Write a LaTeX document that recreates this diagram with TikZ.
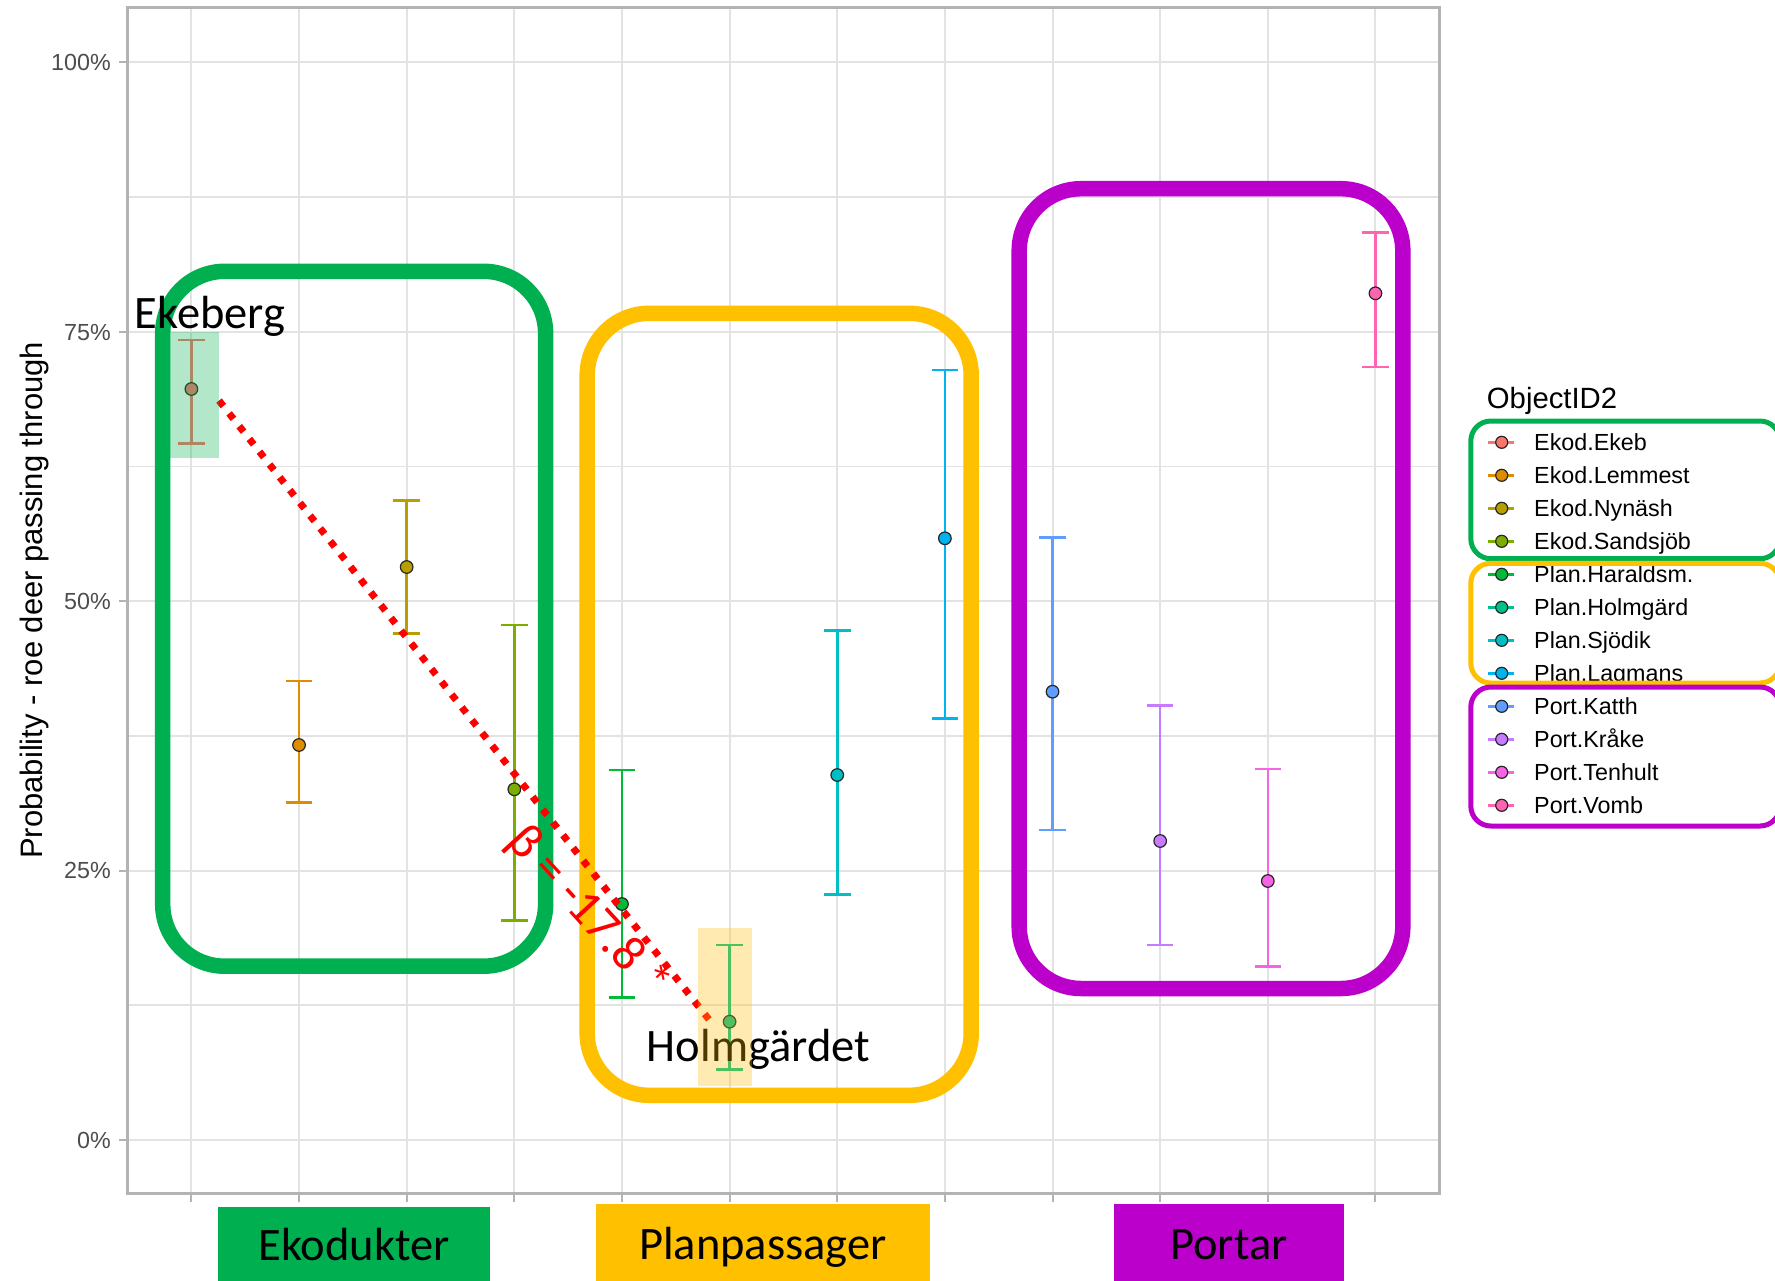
\documentclass[tikz,border=0pt]{standalone}
\usepackage{fontspec}
\setmainfont{Liberation Sans}
\newfontfamily\callabel{Carlito}

% ggplot hue palette, 12 levels
\definecolor{hA}{HTML}{F8766D}
\definecolor{hB}{HTML}{DE8C00}
\definecolor{hC}{HTML}{B79F00}
\definecolor{hD}{HTML}{7CAE00}
\definecolor{hE}{HTML}{00BA38}
\definecolor{hF}{HTML}{00C08B}
\definecolor{hG}{HTML}{00BFC4}
\definecolor{hH}{HTML}{00B4F0}
\definecolor{hI}{HTML}{619CFF}
\definecolor{hJ}{HTML}{C77CFF}
\definecolor{hK}{HTML}{F564E3}
\definecolor{hL}{HTML}{FF64B0}
% group colours
\definecolor{ekogreen}{HTML}{00B050}
\definecolor{planyellow}{HTML}{FFC000}
\definecolor{portpurple}{HTML}{BB00CC}
% theme colours
\definecolor{gridgray}{HTML}{E3E3E3}
\definecolor{bordergray}{HTML}{B3B3B3}
\definecolor{ticktext}{HTML}{4D4D4D}

\tikzset{
  gridmajor/.style={draw=gridgray, line width=2pt},
  gridminor/.style={draw=gridgray, line width=1.6pt},
  axisline/.style={draw=bordergray, line width=2.6pt},
  axistick/.style={draw=bordergray, line width=2pt},
  ticklabel/.style={text=ticktext, font=\fontsize{23.3pt}{28pt}\selectfont, inner sep=0pt},
  legtext/.style={text=black, font=\fontsize{23.3pt}{28pt}\selectfont, inner sep=0pt},
  errbar/.style={line width=2.6pt},
  meanpt/.style={draw=black!85, line width=1.2pt},
  groupbox/.style={line width=15.5pt, rounded corners=62pt},
  legbox/.style={line width=5pt, rounded corners=20pt},
  calout/.style={font=\callabel\fontsize{46.5pt}{52pt}\selectfont, inner sep=0pt},
}

\begin{document}
\begin{tikzpicture}[x=1pt,y=-1pt]
% canvas
\fill[white] (0,0) rectangle (1775,1280);
\useasboundingbox (0,0) rectangle (1775,1280);

% panel grid: minor horizontals, major horizontals, verticals
\foreach \p in {12.5,37.5,62.5,87.5}
  \draw[gridminor] (127.4,{1139.9-10.776*\p}) -- (1439.3,{1139.9-10.776*\p});
\foreach \p in {0,25,50,75,100}
  \draw[gridmajor] (127.4,{1139.9-10.776*\p}) -- (1439.3,{1139.9-10.776*\p});
\foreach \i in {1,...,12}
  \draw[gridmajor] ({191.4+107.64*(\i-1)},7.3) -- ({191.4+107.64*(\i-1)},1193.3);

% panel border and ticks
\draw[axisline] (127.4,7.3) rectangle (1439.3,1193.3);
\foreach \i in {1,...,12}
  \draw[axistick] ({191.4+107.64*(\i-1)},1193.3) -- ({191.4+107.64*(\i-1)},1201.7);
\foreach \p/\lab in {0/0\%,25/25\%,50/50\%,75/75\%,100/100\%}{
  \draw[axistick] (119.3,{1139.9-10.776*\p}) -- (127.4,{1139.9-10.776*\p});
  \node[ticklabel, anchor=base east] (yt\p) at (111,{1139.9-10.776*\p+8.35}) {\lab};
}

% y axis title
\node[inner sep=0pt, anchor=base, rotate=90, font=\fontsize{31pt}{36pt}\selectfont]
  (ytitle) at (42.5,600.3) {Probability - roe deer passing through};

% error bars with mean points: index / colour / lower / mean / upper
\foreach \i/\c/\lo/\m/\hi in {
  1/hA/443.3/389/340,
  2/hB/802.7/745/681,
  3/hC/633.7/567/500.7,
  4/hD/920.7/789.3/625,
  5/hE/997.7/904/770,
  6/hF/1069.3/1021.7/945,
  7/hG/894.3/775/630.5,
  8/hH/718.3/538.3/370,
  9/hI/830/691.7/537.7,
  10/hJ/945/841/705.5,
  11/hK/966.3/881/768.8,
  12/hL/367/293.3/232.3}{
  \pgfmathsetmacro\xx{191.4+107.64*(\i-1)}
  \draw[errbar, \c] (\xx,\hi) -- (\xx,\lo);
  \draw[errbar, \c] (\xx-13.3,\hi) -- (\xx+13.3,\hi);
  \draw[errbar, \c] (\xx-13.3,\lo) -- (\xx+13.3,\lo);
  \filldraw[meanpt, fill=\c] (\xx,\m) circle[radius=6.3pt];
}

% legend
\node[inner sep=0pt, anchor=base west, font=\fontsize{29.3pt}{34pt}\selectfont]
  (legtitle) at (1486.7,408.3) {ObjectID2};
\foreach \i/\c/\lab in {
  1/hA/Ekod.Ekeb, 2/hB/Ekod.Lemmest, 3/hC/Ekod.Nynäsh, 4/hD/Ekod.Sandsjöb,
  5/hE/Plan.Haraldsm., 6/hF/Plan.Holmgärd, 7/hG/Plan.Sjödik, 8/hH/Plan.Lagmans,
  9/hI/Port.Katth, 10/hJ/Port.Kråke, 11/hK/Port.Tenhult, 12/hL/Port.Vomb}{
  \pgfmathsetmacro\yy{442.3+33*(\i-1)}
  \draw[errbar, \c] (1488.3,\yy) -- (1514,\yy);
  \filldraw[meanpt, fill=\c] (1501.7,\yy) circle[radius=6pt];
  \node[legtext, anchor=base west] (leg\i) at (1534,\yy+8.35) {\lab};
}

% group outlines on the panel
\draw[groupbox, ekogreen] (162.7,271.3) rectangle (545.6,966.2);
\draw[groupbox, planyellow] (587.2,313.3) rectangle (971.2,1095.3);
\draw[groupbox, portpurple] (1019.2,188.7) rectangle (1402.8,988.5);

% group outlines in the legend
\draw[legbox, ekogreen] (1470.8,421) rectangle (1780,558.7);
\draw[legbox, planyellow] (1470.8,563.3) rectangle (1780,683);
\draw[legbox, portpurple] (1470.8,687) rectangle (1780,826);

% trend between Ekeberg and Holmgärdet
\coordinate (trendA) at (219.0,400.6);
\coordinate (trendB) at (708.9,1019.4);
\draw[red, line width=7pt, dash pattern=on 7pt off 9.3pt] (trendA) -- (trendB);
\node[calout, text=red, rotate=-47.5, font=\callabel\fontsize{50pt}{56pt}\selectfont]
  (beta) at (587.5,912.8) {β = -17.8 *};

% site labels
\node[calout, anchor=base west] (ekeberg) at (134.7,328.3) {Ekeberg};
\node[calout, anchor=base west] (holm) at (646.7,1061.7) {Holmgärdet};

% translucent highlights of the two sites
\fill[ekogreen, opacity=0.3] (169.5,331.7) rectangle (218.9,457.7);
\fill[planyellow, opacity=0.3] (698,928.3) rectangle (752,1085.7);

% group name tags under the axis
\fill[ekogreen] (217.9,1206.7) rectangle (490.2,1285);
\fill[planyellow] (596,1204) rectangle (930,1285);
\fill[portpurple] (1114,1204) rectangle (1343.8,1285);
\node[calout, anchor=base] (tagEko) at (354,1260.5) {Ekodukter};
\node[calout, anchor=base] (tagPlan) at (763,1259) {Planpassager};
\node[calout, anchor=base] (tagPort) at (1228.9,1259.5) {Portar};
\end{tikzpicture}
\end{document}
